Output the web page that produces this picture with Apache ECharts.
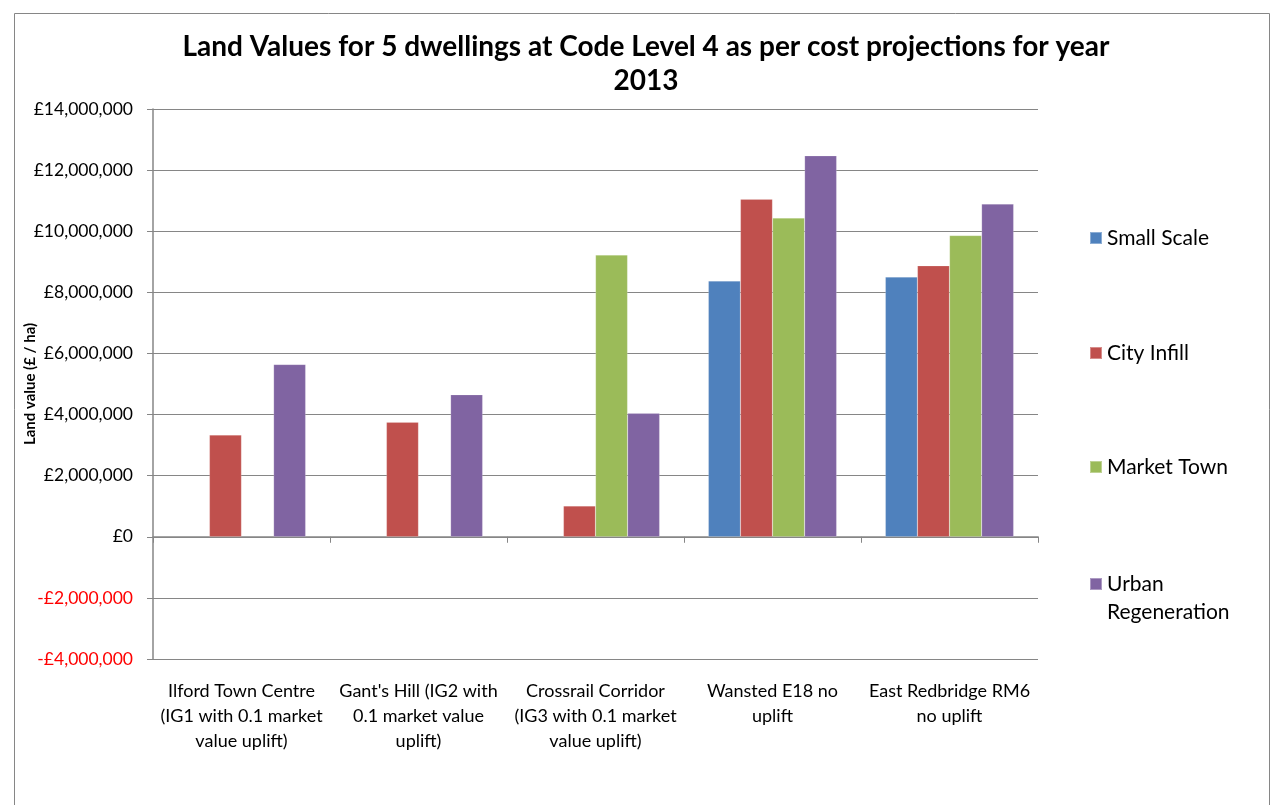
<!DOCTYPE html>
<html>
<head>
<meta charset="utf-8">
<title>Land Values</title>
<script src="https://cdn.jsdelivr.net/npm/echarts@6/dist/echarts.min.js"></script>
<style>
  html, body { margin: 0; padding: 0; background: #fff; }
  #chart { width: 1270px; height: 805px; }
</style>
</head>
<body>
<div id="chart"></div>
<script>
// categories as shown under the axis (line breaks as in the original)
var categories = [
  'Ilford Town Centre\n(IG1 with 0.1 market\nvalue uplift)',
  "Gant's Hill (IG2 with\n0.1 market value\nuplift)",
  'Crossrail Corridor\n(IG3 with 0.1 market\nvalue uplift)',
  'Wansted E18 no\nuplift',
  'East Redbridge RM6\nno uplift'
];

var seriesNames = ['Small Scale', 'City Infill', 'Market Town', 'Urban Regeneration'];
var seriesColors = ['#4F81BD', '#C0504D', '#9BBB59', '#8064A2'];

// land value (£ / ha)
var smallScale = [null, null, null, 8370000, 8500000];
var cityInfill = [3330000, 3750000, 1010000, 11050000, 8870000];
var marketTown = [null, null, 9220000, 10430000, 9860000];
var urbanRegeneration = [5640000, 4650000, 4040000, 12470000, 10890000];

var yMin = -4000000;
var yMax = 14000000;
var yStep = 2000000;

var seriesData = [smallScale, cityInfill, marketTown, urbanRegeneration];

// legend rows down the right hand side (icon centre y)
var legendCentres = [238, 353, 467, 584];

function fmtPounds(v) {
  v = Number(v);
  var s = Math.abs(v).toString().replace(/\B(?=(\d{3})+(?!\d))/g, ',');
  return (v < 0 ? '-£' : '£') + s;
}

var chart = echarts.init(document.getElementById('chart'));

var legendLine = 28;
var legends = seriesNames.map(function (name, i) {
  var urban = name === 'Urban Regeneration';
  // urban label is three lines (blank, Urban, Regeneration) so the icon sits on "Urban"
  var h = urban ? legendLine * 3 : legendLine;
  return {
    orient: 'vertical',
    left: 1089,
    top: legendCentres[i] - h / 2,
    padding: 0,
    itemWidth: 12,
    itemHeight: 12,
    itemGap: 0,
    icon: 'rect',
    data: [name],
    selectedMode: false,
    formatter: function (n) {
      return n === 'Urban Regeneration' ? ' \nUrban\nRegeneration' : n;
    },
    textStyle: {
      fontFamily: 'Lato',
      fontSize: 21,
      color: '#000',
      lineHeight: legendLine
    }
  };
});

var option = {
  backgroundColor: '#fff',
  animation: false,
  graphic: [{
    type: 'rect',
    left: 12,
    top: 11,
    shape: { width: 1255, height: 820 },
    style: { fill: 'none', stroke: '#868686', lineWidth: 1 },
    silent: true
  }],
  title: {
    text: 'Land Values for 5 dwellings at Code Level 4 as per cost projections for year\n2013',
    left: 641,
    top: 25,
    textAlign: 'center',
    textStyle: {
      fontFamily: 'Lato',
      fontWeight: 'bold',
      fontSize: 28,
      lineHeight: 34,
      color: '#000'
    }
  },
  legend: legends,
  grid: {
    left: 153,
    right: 232,
    top: 109,
    bottom: 146,
    containLabel: false,
    outerBoundsMode: 'none'
  },
  xAxis: {
    type: 'category',
    data: categories,
    axisLine: { onZero: true, lineStyle: { color: '#868686', width: 1.5 } },
    axisTick: { show: true, length: 6, inside: false, lineStyle: { color: '#868686' } },
    axisLabel: {
      interval: 0,
      margin: 20,
      fontFamily: 'Lato',
      fontSize: 18,
      lineHeight: 25,
      color: '#000'
    },
    splitLine: { show: false }
  },
  yAxis: {
    type: 'value',
    min: yMin,
    max: yMax,
    interval: yStep,
    name: 'Land value (£ / ha)',
    nameLocation: 'middle',
    nameGap: 115,
    nameMoveOverlap: false,
    nameTextStyle: {
      fontFamily: 'Lato',
      fontWeight: 'bold',
      fontSize: 15,
      color: '#000'
    },
    axisLine: { show: true, lineStyle: { color: '#868686', width: 1.5 } },
    axisTick: { show: true, length: 6, lineStyle: { color: '#868686' } },
    axisLabel: {
      margin: 20,
      fontFamily: 'Lato',
      fontSize: 17.5,
      formatter: fmtPounds,
      color: function (v) { return Number(v) < 0 ? '#ff0000' : '#000'; }
    },
    splitLine: { show: true, lineStyle: { color: '#868686', width: 1.2 } }
  },
  series: seriesNames.map(function (name, i) {
    return {
      name: name,
      type: 'bar',
      data: seriesData[i],
      barGap: '0%',
      barCategoryGap: '27.5%',
      itemStyle: {
        color: seriesColors[i],
        borderColor: 'rgba(255,255,255,0.35)',
        borderWidth: 0.5
      }
    };
  })
};

chart.setOption(option);
</script>
</body>
</html>
